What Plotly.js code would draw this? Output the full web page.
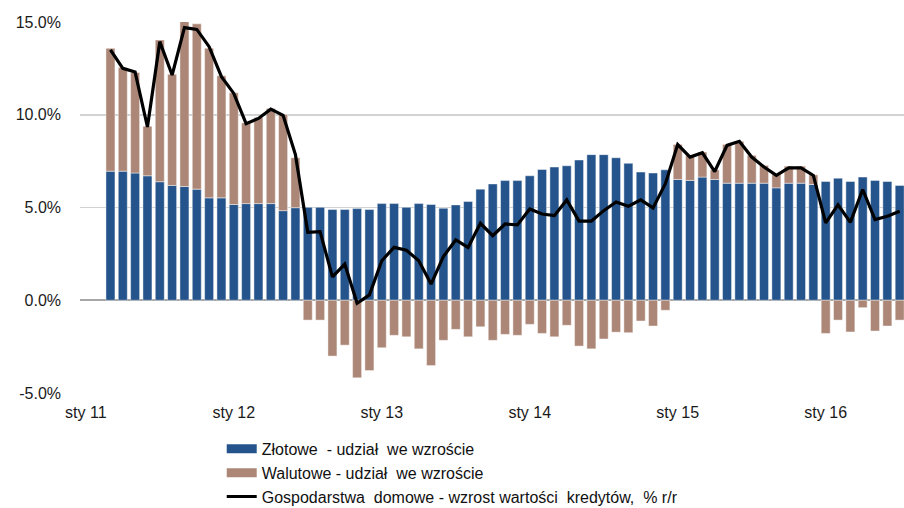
<!DOCTYPE html>
<html>
<head>
<meta charset="utf-8">
<script src="https://cdn.plot.ly/plotly-3.0.1.min.js"></script>
<style>html,body{margin:0;padding:0;background:#fff;}#chart{width:904px;height:508px;}</style>
</head>
<body>
<div id="chart"></div>
<script>
// Months (YYYY-MM), March 2011 to July 2016
const months = [
 '2011-03','2011-04','2011-05','2011-06','2011-07','2011-08','2011-09','2011-10','2011-11','2011-12',
 '2012-01','2012-02','2012-03','2012-04','2012-05','2012-06','2012-07','2012-08','2012-09','2012-10','2012-11','2012-12',
 '2013-01','2013-02','2013-03','2013-04','2013-05','2013-06','2013-07','2013-08','2013-09','2013-10','2013-11','2013-12',
 '2014-01','2014-02','2014-03','2014-04','2014-05','2014-06','2014-07','2014-08','2014-09','2014-10','2014-11','2014-12',
 '2015-01','2015-02','2015-03','2015-04','2015-05','2015-06','2015-07','2015-08','2015-09','2015-10','2015-11','2015-12',
 '2016-01','2016-02','2016-03','2016-04','2016-05','2016-06','2016-07'
];
// Złotowe - udział we wzroście (pp)
const zlotowe = [
 6.96,6.96,6.86,6.71,6.39,6.19,6.13,5.99,5.52,5.52,
 5.16,5.21,5.21,5.21,4.83,4.99,5.01,5.01,4.89,4.89,4.94,4.89,
 5.21,5.21,5.01,5.21,5.16,4.96,5.14,5.32,5.99,6.27,6.45,6.45,
 6.71,7.05,7.18,7.25,7.56,7.85,7.85,7.68,7.38,6.91,6.86,7.03,
 6.51,6.46,6.64,6.51,6.31,6.31,6.31,6.31,6.06,6.31,6.31,6.24,
 6.40,6.58,6.40,6.64,6.46,6.40,6.19
];
// Walutowe - udział we wzroście (pp)
const walutowe = [
 6.62,5.59,5.42,2.67,7.64,5.99,8.90,8.91,8.06,6.58,
 6.02,4.35,4.64,5.13,5.18,2.69,-1.07,-1.07,-3.01,-2.42,-4.18,-3.79,
 -2.56,-1.89,-1.97,-2.62,-3.52,-2.16,-1.57,-1.97,-1.43,-2.16,-1.84,-1.89,
 -1.30,-1.79,-1.97,-1.35,-2.47,-2.62,-2.09,-1.72,-1.75,-1.12,-1.39,-0.54,
 1.89,1.35,1.35,0.52,2.09,2.26,1.50,0.96,0.74,0.92,0.92,0.52,
 -1.79,-1.07,-1.71,-0.40,-1.66,-1.39,-1.07
];
// Gospodarstwa domowe - wzrost wartości kredytów, % r/r
const wzrost = [
 13.50,12.50,12.30,9.34,13.94,12.14,14.70,14.60,13.67,12.05,
 11.15,9.52,9.80,10.30,9.97,7.85,3.66,3.70,1.26,1.95,-0.16,0.29,
 2.13,2.85,2.70,2.13,0.87,2.36,3.25,2.85,4.15,3.48,4.11,4.06,
 4.92,4.65,4.56,5.41,4.27,4.27,4.83,5.30,5.07,5.41,4.98,6.28,
 8.39,7.72,7.95,6.94,8.35,8.57,7.72,7.18,6.73,7.14,7.14,6.73,
 4.17,5.14,4.20,5.97,4.35,4.53,4.80
];
const xTickMonths = ['2011-01','2012-01','2013-01','2014-01','2015-01','2016-01'];
const xTickText = ['sty 11','sty 12','sty 13','sty 14','sty 15','sty 16'];
const yTickVals = [-5,0,5,10,15];
const yTickText = ['-5.0%','0.0%','5.0%','10.0%','15.0%'];
const seriesNames = [
 'Złotowe\u00a0 - udział\u00a0 we wzroście',
 'Walutowe - udział\u00a0 we wzroście',
 'Gospodarstwa\u00a0 domowe - wzrost wartości\u00a0 kredytów,\u00a0 % r/r'
];

const monthIndex = m => { const [y, mo] = m.split('-').map(Number); return (y - 2011) * 12 + (mo - 1); };
const x = months.map(monthIndex);

const BLUE = '#24548b';
const BROWN = '#ac8777';
const barLine = {color: 'rgba(255,255,255,0.55)', width: 0.8};

const traces = [
 {type:'bar', x:x, y:zlotowe, marker:{color:BLUE, line:barLine}, showlegend:false, hoverinfo:'skip'},
 {type:'bar', x:x, y:walutowe, marker:{color:BROWN, line:barLine}, showlegend:false, hoverinfo:'skip'},
 {type:'scatter', mode:'lines', x:x, y:wzrost, line:{color:'#000', width:3.2}, showlegend:false},
 // legend entries
 {type:'scatter', mode:'lines', x:[null], y:[null], name:seriesNames[0], line:{color:BLUE, width:9}},
 {type:'scatter', mode:'lines', x:[null], y:[null], name:seriesNames[1], line:{color:BROWN, width:9}},
 {type:'scatter', mode:'lines', x:[null], y:[null], name:seriesNames[2], line:{color:'#000', width:3}}
];

const layout = {
 width:904, height:508,
 margin:{l:80, r:0, t:22, b:115, autoexpand:false},
 paper_bgcolor:'#fff', plot_bgcolor:'#fff',
 font:{family:'Arial, "Liberation Sans", sans-serif', size:16, color:'#1a1a1a'},
 barmode:'relative', bargap:0.27,
 xaxis:{
  range:[-0.47, 66.35], showgrid:false, zeroline:false, showline:false,
  tickmode:'array', tickvals:xTickMonths.map(monthIndex), ticktext:xTickText,
  ticks:'', ticklabelstandoff:8, tickfont:{size:16, color:'#1a1a1a'}
 },
 yaxis:{
  range:[-5, 15], tickmode:'array', tickvals:yTickVals, ticktext:yTickText,
  showgrid:true, gridcolor:'#d2d2d2', gridwidth:1.5,
  zeroline:true, zerolinecolor:'#a6a6a6', zerolinewidth:2,
  showline:false, ticks:'', ticklabelstandoff:18, tickfont:{size:16, color:'#1a1a1a'}
 },
 legend:{
  orientation:'v', x:0.172, xanchor:'left', y:-0.105, yanchor:'top',
  font:{size:16, color:'#111'}, tracegroupgap:0, bgcolor:'rgba(0,0,0,0)'
 },
 showlegend:true
};

Plotly.newPlot('chart', traces, layout, {staticPlot:true, displayModeBar:false});
</script>
</body>
</html>
